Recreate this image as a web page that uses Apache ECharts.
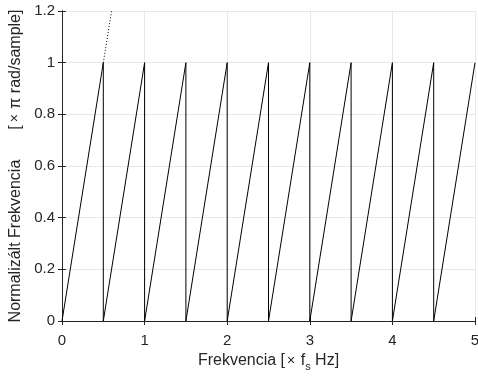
<!DOCTYPE html>
<html><head><meta charset="utf-8">
<script src="https://cdn.jsdelivr.net/npm/echarts@6/dist/echarts.min.js"></script>
<style>html,body{margin:0;padding:0;background:#fff}#c{width:478px;height:379px}</style>
</head><body><div id="c"></div>
<script>
const sawX = [0,0.5,0.5,1,1,1.5,1.5,2,2,2.5,2.5,3,3,3.5,3.5,4,4,4.5,4.5,5];
const sawY = [0,1,0,1,0,1,0,1,0,1,0,1,0,1,0,1,0,1,0,1];
const dotX = [0.5,0.6];
const dotY = [1,1.2];
const xTicks = [0,1,2,3,4,5];
const yTicks = [0,0.2,0.4,0.6,0.8,1,1.2];
const FONT = 'Liberation Sans, Arial, sans-serif';
const TXT = '#262626';
const chart = echarts.init(document.getElementById('c'), null, {renderer:'canvas'});
const axBase = {
  type:'value',
  axisLine:{show:true,lineStyle:{color:TXT,width:1}},
  axisTick:{show:true,inside:true,length:4,lineStyle:{color:TXT}},
  splitLine:{show:false}
};
chart.setOption({
  animation:false,
  grid:{left:62,right:3,top:11,bottom:58,containLabel:false,outerBoundsMode:'none'},
  xAxis:[
    Object.assign({}, axBase, {position:'bottom',min:xTicks[0],max:xTicks[xTicks.length-1],interval:1,
      axisLabel:{color:TXT,fontSize:15,fontFamily:FONT,margin:12,hideOverlap:false},
      splitLine:{show:true,lineStyle:{color:'#e8e8e8',width:1}},
      name:'Frekvencia [{x|×} f{s|s} Hz]',nameLocation:'middle',nameGap:25,
      nameTextStyle:{color:TXT,fontSize:16,fontFamily:FONT,
        rich:{x:{fontSize:14,fontFamily:FONT,color:TXT,padding:[0,1,0,2]},
              s:{fontSize:11,fontFamily:FONT,color:TXT,padding:[12,0,0,0]}}}}),
    Object.assign({}, axBase, {position:'top',min:xTicks[0],max:xTicks[xTicks.length-1],interval:1,axisLabel:{show:false}})
  ],
  yAxis:[
    Object.assign({}, axBase, {position:'left',min:yTicks[0],max:yTicks[yTicks.length-1],interval:0.2,
      axisLabel:{color:TXT,fontSize:15,fontFamily:FONT,margin:7,
        formatter:v=>String(+v.toFixed(1))},
      splitLine:{show:true,lineStyle:{color:'#e8e8e8',width:1}},
      name:'Normalizált Frekvencia{g|}[{x|×} π rad/sample]',nameLocation:'middle',nameGap:32,nameRotate:90,
      nameTextStyle:{color:TXT,fontSize:16,fontFamily:FONT,
        rich:{g:{width:30},x:{fontSize:14,fontFamily:FONT,color:TXT,padding:[0,1,0,3]}}}}),
    Object.assign({}, axBase, {position:'right',min:yTicks[0],max:yTicks[yTicks.length-1],interval:0.2,axisLabel:{show:false}})
  ],
  series:[
    {type:'line',data:sawX.map((x,i)=>[x,sawY[i]]),symbol:'none',
     lineStyle:{color:'#000',width:1},clip:true,z:5},
    {type:'line',data:dotX.map((x,i)=>[x,dotY[i]]),symbol:'none',
     lineStyle:{color:'#000',width:1,type:[1,2]},clip:true,z:5}
  ]
});
</script></body></html>
